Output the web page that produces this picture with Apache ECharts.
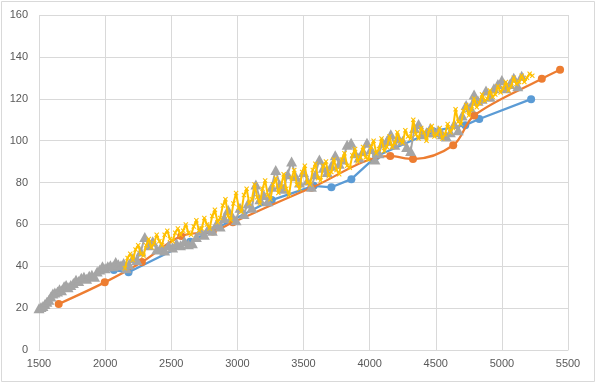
<!DOCTYPE html>
<html><head><meta charset="utf-8">
<script src="https://cdn.jsdelivr.net/npm/echarts@6/dist/echarts.min.js"></script>
<style>html,body{margin:0;padding:0;background:#fff}#c{width:596px;height:392px}</style>
</head><body><div id="c"></div>
<script>
var xTicks = [1500, 2000, 2500, 3000, 3500, 4000, 4500, 5000, 5500];
var yTicks = [0, 20, 40, 60, 80, 100, 120, 140, 160];

var blueX = [2066, 2177, 2643, 3260, 3577, 3711, 3862, 4050, 4480, 4723, 4829, 5221];
var blueY = [38.2, 37.1, 51.7, 71.6, 78.4, 77.7, 81.6, 92.5, 104.5, 107.4, 110.3, 119.8];

var orangeX = [1649, 1997, 2278, 2575, 2814, 2966, 3560, 4156, 4328, 4632, 4791, 5302, 5440];
var orangeY = [22, 32.3, 42, 54.4, 56.6, 61, 77.5, 92.6, 91.2, 97.8, 112, 129.5, 133.8];

var grayX = [1500,1515,1530,1545,1560,1575,1590,1605,1620,1640,1655,1670,1690,1705,1720,1740,1760,1780,1800,1820,1840,1860,1880,1900,1920,1940,1960,1980,2000,2020,2040,2060,2080,2100,2120,2140,2160,
  2180,2210,2240,2270,2300,2330,2360,2390,2420,2450,2480,2510,2540,2570,2600,2630,2660,2690,2720,2750,2780,2810,2840,2870,2900,2930,2960,2990,3020,3050,3080,3110,3140,3170,3200,3230,3260,3290,3320,3350,3380,3410,3440,3470,3500,3530,3560,3590,3620,3650,3680,3710,3740,3770,3800,3830,3860,3890,3920,3950,3980,4010,4040,4070,4100,4130,4160,4190,4220,4250,4280,4310,4340,4370,4400,4430,4460,4490,4520,4550,4580,4610,4640,4670,4700,4730,4760,4790,4820,4850,4880,4910,4940,4970,5000,5030,5060,5090,5120,5150];
var grayY = [20,20.5,21,22,23,24,25.5,27,27.5,28,29,28.5,30.5,31,30,31,32,33.5,33,34.5,35,34,35.5,36,35,37.5,38.5,40,39,40,40.5,40,42,41,40.5,41.5,39,
  41,44,43,47,54,50,52,48,49,47.5,50,49,51,50,52,50.5,51,54,57,55,58,57,60,59,63,67,64,62,68,65,70,68,79,72,74,71,78,86,79,77,84,90,83,80,85,81,78,84,91,87,85,88,93,89,91,98,99,94,92,95,99,96,91,94,99,100,103,98,101,100,97,95,106,108,103,104,106,104,105,103,102,104,108,105,112,117,116,122,119,120,124,121,125,127,129,125,127,130,126,131];

var yellowX = [2150,2170,2190,2210,2230,2250,2270,2290,2310,2330,2350,2370,2390,2410,2430,2450,2470,2490,2510,2530,2550,2570,2590,2610,2630,2650,2670,2690,2710,2730,2750,2770,2790,2810,2830,2850,2870,2890,2910,2930,2950,2970,2990,3010,3030,3050,3070,3090,3110,3130,3150,3170,3190,3210,3230,3250,3270,3290,3310,3330,3350,3370,3390,3410,3430,3450,3470,3490,3510,3530,3550,3570,3590,3610,3630,3650,3670,3690,3710,3730,3750,3770,3790,3810,3830,3850,3870,3890,3910,3930,3950,3970,3990,4010,4030,4050,4070,4090,4110,4130,4150,4170,4190,4210,4230,4250,4270,4290,4310,4330,4350,4370,4390,4410,4430,4450,4470,4490,4510,4530,4550,4570,4590,4610,4630,4650,4670,4690,4710,4730,4750,4770,4790,4810,4830,4850,4870,4890,4910,4930,4950,4970,4990,5010,5030,5050,5070,5090,5110,5130,5150,5170,5190,5210,5230];
var yellowY = [39,44,46,43,48,50,46,45,50,53,
  49,51,55,52,50,55,57,53,52,56,
  58,55,57,60,56,55,59,62,57,58,
  63,60,58,64,67,61,63,69,72,64,
  62,70,75,68,66,74,77,70,72,79,
  73,70,77,81,74,72,79,82,75,78,
  84,77,74,82,86,79,77,85,88,80,
  79,86,89,82,81,88,90,83,85,91,
  86,84,91,94,88,87,93,96,90,92,
  97,92,91,97,100,94,96,101,95,97,
  102,97,99,104,100,99,105,102,101,110,
  103,101,106,104,100,105,107,102,103,106,
  101,103,108,104,106,115,109,108,114,117,
  112,115,120,116,118,122,119,120,124,121,
  122,126,123,125,128,124,126,130,127,128,
  131,128,130,132,131];

function pairs(xs, ys){ return xs.map(function(x,i){ return [x, ys[i]]; }); }

var chart = echarts.init(document.getElementById('c'), null, {renderer:'canvas'});
var lab = {color:'#595959', fontSize:11, fontFamily:'Liberation Sans, Arial, sans-serif'};
var xSym = 'path://M0,1.5L1.5,0L5,3.5L8.5,0L10,1.5L6.5,5L10,8.5L8.5,10L5,6.5L1.5,10L0,8.5L3.5,5Z';
chart.setOption({
  animation:false,
  backgroundColor:'#fff',
  graphic:[{type:'rect', shape:{x:1.5,y:1.5,width:593,height:380}, style:{fill:'none', stroke:'#D9D9D9', lineWidth:1}, z:-10}],
  grid:{left:39, right:28, top:15, bottom:42, containLabel:false},
  xAxis:{type:'value', min:xTicks[0], max:xTicks[xTicks.length-1], interval:500,
    axisLine:{show:true, lineStyle:{color:'#D9D9D9'}}, axisTick:{show:false},
    axisLabel:Object.assign({margin:8, formatter:function(v){return String(v);}}, lab),
    splitLine:{show:true, showMinLine:true, showMaxLine:true, lineStyle:{color:'#D9D9D9', width:1}}},
  yAxis:{type:'value', min:yTicks[0], max:yTicks[yTicks.length-1], interval:20,
    axisLine:{show:false}, axisTick:{show:false},
    axisLabel:Object.assign({margin:11, formatter:function(v){return String(v);}}, lab),
    splitLine:{show:true, showMinLine:true, showMaxLine:true, lineStyle:{color:'#D9D9D9', width:1}}},
  series:[
    {type:'line', data:pairs(blueX, blueY), symbol:'circle', symbolSize:8, showAllSymbol:true,
      lineStyle:{color:'#5B9BD5', width:2.25}, itemStyle:{color:'#5B9BD5'}, z:2},
    {type:'line', data:pairs(orangeX, orangeY), smooth:0.35, symbol:'circle', symbolSize:8, showAllSymbol:true,
      lineStyle:{color:'#ED7D31', width:2.25}, itemStyle:{color:'#ED7D31'}, z:3},
    {type:'line', data:pairs(grayX, grayY), symbol:'triangle', symbolSize:[11,10], showAllSymbol:true,
      lineStyle:{color:'#A5A5A5', width:2}, itemStyle:{color:'#A5A5A5'}, z:4},
    {type:'line', data:pairs(yellowX, yellowY), symbol:xSym, symbolSize:5, showAllSymbol:true,
      lineStyle:{color:'#FFC000', width:2}, itemStyle:{color:'#FFC000'}, z:5}
  ]
});
</script></body></html>
